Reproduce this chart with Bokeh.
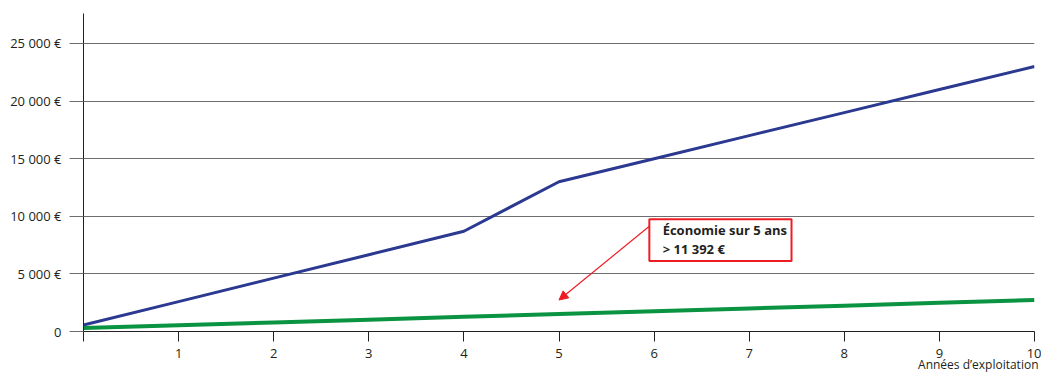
from bokeh.plotting import figure
from bokeh.models import (Range1d, FixedTicker, Label, BoxAnnotation, Arrow, NormalHead, Title)
from bokeh.embed import file_html
from bokeh.resources import INLINE

years = [0, 1, 2, 3, 4, 5, 6, 7, 8, 9, 10]
cout_classique = [560, 2595, 4630, 6665, 8700, 13000, 15000, 17000, 19000, 21000, 23000]
cout_solution = [300, 543, 786, 1029, 1272, 1515, 1758, 2001, 2244, 2487, 2730]
y_ticks = [0, 5000, 10000, 15000, 20000, 25000]
y_labels = {0: "0", 5000: "5 000 €", 10000: "10 000 €", 15000: "15 000 €", 20000: "20 000 €", 25000: "25 000 €"}
x_ticks = [0, 1, 2, 3, 4, 5, 6, 7, 8, 9, 10]
x_title = "Années d’exploitation"
note_lines = ["Économie sur 5 ans", "> 11 392 €"]

FONT = "Open Sans"
TXT = "#231f20"
BLUE = "#2b3990"
GREEN = "#0a9340"
RED = "#ed1c24"

p = figure(width=1041, height=372, output_backend="svg", toolbar_location=None,
           x_range=Range1d(0, 10), y_range=Range1d(0, 27600),
           min_border_left=83, min_border_right=7, min_border_top=13, min_border_bottom=41)
p.outline_line_color = None
p.background_fill_color = "white"
p.border_fill_color = "white"

p.xgrid.grid_line_color = None
p.ygrid.ticker = FixedTicker(ticks=y_ticks[1:])
p.ygrid.grid_line_color = "#6d6e71"
p.ygrid.grid_line_width = 1

ya = p.yaxis[0]
ya.ticker = FixedTicker(ticks=y_ticks)
ya.major_label_overrides = y_labels
ya.major_tick_out = 14
ya.major_tick_in = 0
ya.major_tick_line_color = "#6d6e71"
ya.minor_tick_line_color = None
ya.axis_line_color = "#231f20"
ya.major_label_standoff = 8
ya.major_label_text_font = FONT
ya.major_label_text_font_size = "13px"
ya.major_label_text_color = TXT

xa = p.xaxis[0]
xa.ticker = FixedTicker(ticks=x_ticks)
xa.major_label_overrides = {0: ""}
xa.major_tick_out = 10
xa.major_tick_in = 0
xa.major_tick_line_color = "#231f20"
xa.minor_tick_line_color = None
xa.axis_line_color = "#231f20"
xa.major_label_standoff = 7
xa.major_label_text_font = FONT
xa.major_label_text_font_size = "13px"
xa.major_label_text_color = TXT

p.line(years, cout_classique, line_color=BLUE, line_width=3)
p.line(years, cout_solution, line_color=GREEN, line_width=4)

t = Title(text=x_title, align="right", text_font=FONT, text_font_style="normal",
          text_font_size="12px", text_color=TXT, offset=-4, standoff=-14)
p.add_layout(t, "below")

p.add_layout(BoxAnnotation(left=5.95, right=7.445, top=9750, bottom=6110,
                           fill_color=None, fill_alpha=0, line_color=RED, line_alpha=1, line_width=2))
p.add_layout(Label(x=6.09, y=8810, text=note_lines[0], text_baseline="middle",
                   text_font=FONT, text_font_style="bold", text_font_size="13px", text_color=TXT))
p.add_layout(Label(x=6.09, y=7160, text=note_lines[1], text_baseline="middle",
                   text_font=FONT, text_font_style="bold", text_font_size="13px", text_color=TXT))
p.add_layout(Arrow(x_start=5.95, y_start=9140, x_end=5.0, y_end=2730,
                   line_color=RED, line_width=1.2,
                   end=NormalHead(size=9, fill_color=RED, line_color=RED)))

open("out.html", "w").write(file_html(p, INLINE))
